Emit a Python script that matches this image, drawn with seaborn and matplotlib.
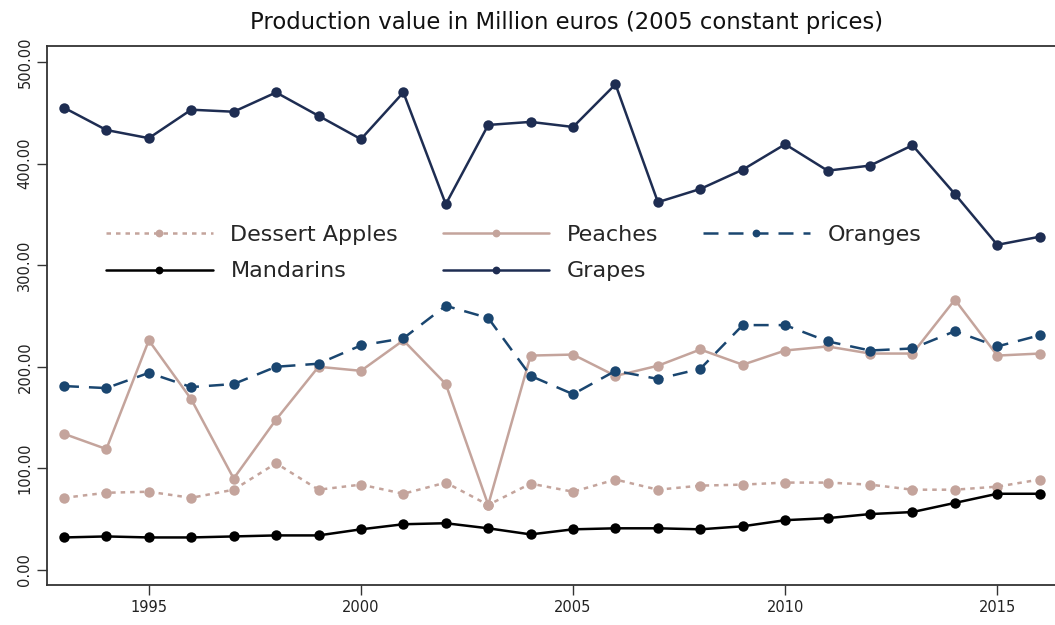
import numpy as np
import pandas as pd
import seaborn as sns
import matplotlib
matplotlib.use("Agg")
import matplotlib.pyplot as plt
from matplotlib.ticker import FormatStrFormatter

# Dados (milhões de euros, preços constantes de 2005)
anos = list(range(1993, 2017))

dessert_apples = [71, 76, 77, 71, 79, 105, 79, 84, 75, 86, 64, 85, 77, 89,
                  79, 83, 84, 86, 86, 84, 79, 79, 82, 89]
peaches = [134, 119, 226, 168, 90, 148, 200, 196, 226, 183, 64, 211, 212, 191,
           201, 217, 202, 216, 220, 213, 213, 266, 211, 213]
oranges = [181, 179, 194, 180, 183, 200, 203, 221, 228, 260, 248, 191, 173, 196,
           188, 198, 241, 241, 225, 216, 218, 235, 220, 231]
mandarins = [32, 33, 32, 32, 33, 34, 34, 40, 45, 46, 41, 35, 40, 41,
             41, 40, 43, 49, 51, 55, 57, 66, 75, 75]
grapes = [455, 433, 425, 453, 451, 470, 447, 424, 470, 360, 438, 441, 436, 478,
          362, 375, 394, 419, 393, 398, 418, 370, 320, 328]

# ordem pensada para a legenda em 3 colunas (preenchida por coluna)
series = {
    "Dessert Apples": (dessert_apples, "#c4a49c", (0, (1.8, 2.0))),
    "Mandarins": (mandarins, "#000000", "-"),
    "Peaches": (peaches, "#c4a49c", "-"),
    "Grapes": (grapes, "#1e2d52", "-"),
    "Oranges": (oranges, "#1a4670", (0, (6, 4))),
}

sns.set_style("white")
plt.rcParams["font.family"] = ["DejaVu Sans"]

fig = plt.figure(figsize=(10.55, 6.25), dpi=100)
ax = fig.add_axes([47 / 1055, 40 / 625, 1008 / 1055, 539 / 625])

for nome, (valores, cor, estilo) in series.items():
    df = pd.DataFrame({"ano": anos, "valor": valores})
    sns.lineplot(data=df, x="ano", y="valor", ax=ax, color=cor,
                 linestyle=estilo, linewidth=1.8, marker="o", markersize=7.5,
                 markeredgewidth=0, label=nome)

ax.set_xlim(1992.6, 2016.36)
ax.set_ylim(-14.8, 515.7)
ax.set_xticks([1995, 2000, 2005, 2010, 2015])
ax.set_yticks([0, 100, 200, 300, 400, 500])
ax.yaxis.set_major_formatter(FormatStrFormatter("%.2f"))
ax.set_xlabel("")
ax.set_ylabel("")

for lado in ["left", "bottom", "top"]:
    ax.spines[lado].set_color("#333333")
    ax.spines[lado].set_linewidth(1.3)
ax.spines["right"].set_visible(False)

ax.tick_params(axis="both", which="major", direction="out", length=7,
               width=1, color="#333333", labelsize=10.5, labelcolor="#222222",
               bottom=True, left=True)
for rotulo in ax.get_yticklabels():
    rotulo.set_rotation(90)
    rotulo.set_va("center")

ax.set_title("Production value in Million euros (2005 constant prices)",
             fontsize=16.4, color="#111111", pad=12, x=0.515)

ax.legend(ncol=3, frameon=False, fontsize=16, loc="center",
          bbox_to_anchor=(0.463, 0.616), handlelength=4.8,
          columnspacing=2.0, labelspacing=0.76, handletextpad=0.8,
          markerscale=0.75)

fig.savefig("out.png", dpi=100)
